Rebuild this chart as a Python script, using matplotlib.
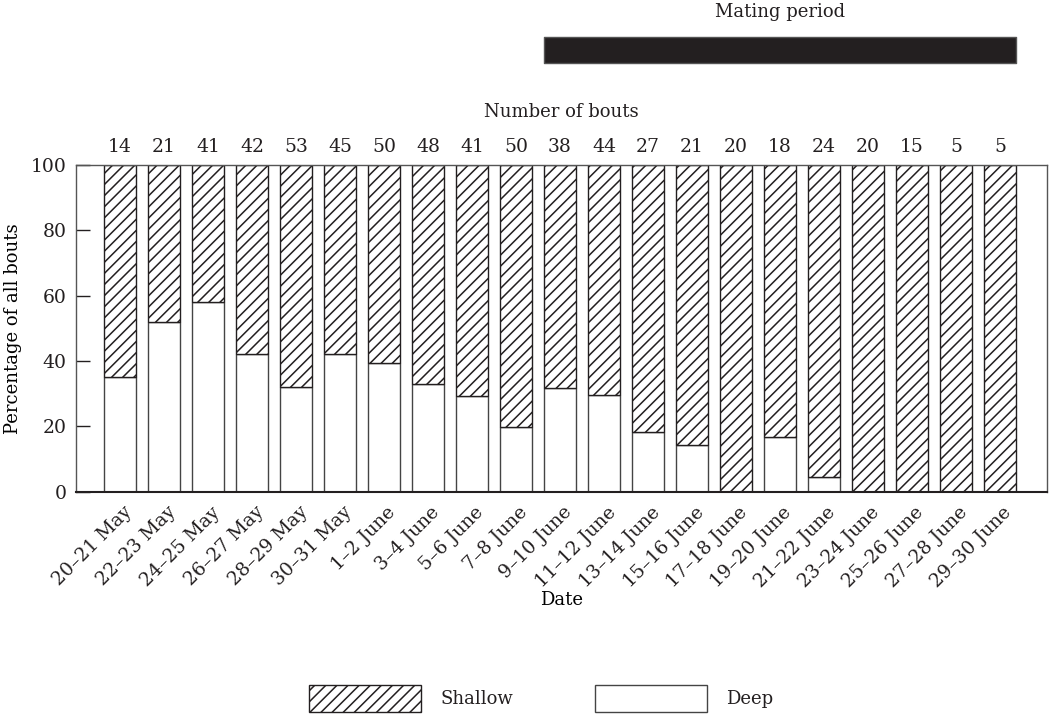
import matplotlib.pyplot as plt
import matplotlib.transforms as mtransforms
import numpy as np

# data
dates = ["20–21 May", "22–23 May", "24–25 May", "26–27 May", "28–29 May",
         "30–31 May", "1–2 June", "3–4 June", "5–6 June", "7–8 June",
         "9–10 June", "11–12 June", "13–14 June", "15–16 June", "17–18 June",
         "19–20 June", "21–22 June", "23–24 June", "25–26 June", "27–28 June",
         "29–30 June"]
n_bouts = [14, 21, 41, 42, 53, 45, 50, 48, 41, 50, 38, 44, 27, 21, 20,
           18, 24, 20, 15, 5, 5]
deep_pct = [35, 52, 58, 42, 32, 42, 39.3, 33, 29.2, 19.7, 31.6, 29.5, 18.2,
            14.2, 0, 16.7, 4.3, 0, 0, 0, 0]
shallow_pct = [100 - d for d in deep_pct]
mating_first, mating_last = 10, 20   # indices of first / last mating-period bins

ink = "#231f20"
plt.rcParams["font.family"] = ["DejaVu Serif"]
plt.rcParams["font.size"] = 13
plt.rcParams["text.color"] = ink
plt.rcParams["hatch.linewidth"] = 1.1
plt.rcParams["hatch.color"] = ink

fig = plt.figure(figsize=(10.51, 7.17), dpi=100)
ax = fig.add_axes([0.0723, 0.3145, 0.9239, 0.4554])

x = np.arange(len(dates))
w = 0.72
deep = ax.bar(x, deep_pct, width=w, color="white", edgecolor="#444444",
              linewidth=1.0, label="Deep")
shallow = ax.bar(x, shallow_pct, width=w, bottom=deep_pct, color="white",
                 edgecolor=ink, hatch="///", linewidth=1.0, label="Shallow")

ax.set_xlim(-1.0, 21.07)
ax.set_ylim(0, 100)
ax.set_yticks([0, 20, 40, 60, 80, 100])
ax.tick_params(axis="y", direction="in", length=10, width=1.0, pad=7,
               colors=ink, labelsize=13.5)
ax.tick_params(axis="x", length=0, pad=0, colors=ink, labelsize=13.5)
for s in ax.spines.values():
    s.set_color("#555555")
    s.set_linewidth(1.0)
ax.spines["bottom"].set_color(ink)
ax.spines["bottom"].set_linewidth(1.5)

ax.set_xticks(x)
ax.set_xticklabels(dates, rotation=45, ha="right", va="center",
                   rotation_mode="anchor")
shift = mtransforms.ScaledTranslation(9 / 100, -18 / 100, fig.dpi_scale_trans)
for lbl in ax.get_xticklabels():
    lbl.set_transform(lbl.get_transform() + shift)

ax.set_ylabel("Percentage of all bouts", labelpad=6)
ax.set_xlabel("Date")
ax.xaxis.set_label_coords(0.5, -0.305)

# counts above the bars
trans = ax.get_xaxis_transform()
for xi, n in zip(x, n_bouts):
    ax.text(xi, 1.055, str(n), transform=trans, ha="center", va="center",
            fontsize=13.5)
ax.text(0.5, 1.161, "Number of bouts", transform=ax.transAxes,
        ha="center", va="center")

# mating period bar
m0 = mating_first - w / 2
m1 = mating_last + w / 2
ax.broken_barh([(m0, m1 - m0)], (1.312, 0.08), transform=trans,
               facecolor=ink, edgecolor="#555555", clip_on=False)
ax.text((m0 + m1) / 2, 1.469, "Mating period", transform=trans,
        ha="center", va="center")

fig.legend(handles=[shallow, deep], labels=["Shallow", "Deep"], ncol=2,
           loc="center", bbox_to_anchor=(0.515, 0.026), frameon=False,
           handlelength=6.2, handleheight=1.95, handletextpad=1.1,
           columnspacing=4.5, borderpad=0, fontsize=13)

fig.savefig("out.png", dpi=100)
